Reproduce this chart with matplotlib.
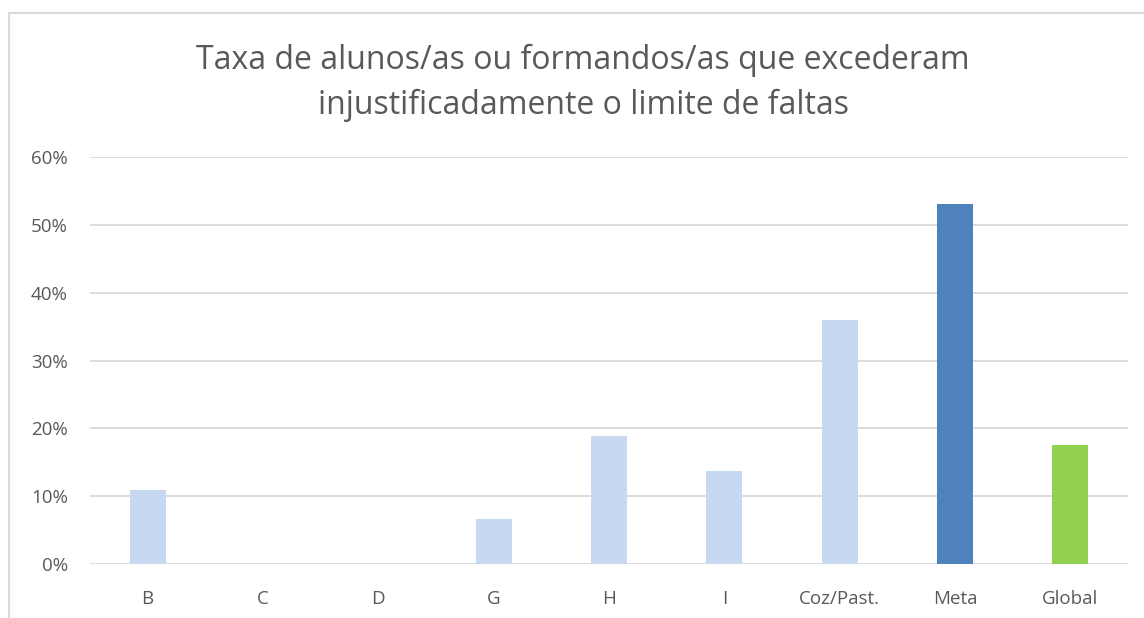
import matplotlib.pyplot as plt
from matplotlib.patches import Rectangle
from matplotlib.ticker import PercentFormatter

categorias = ["B", "C", "D", "G", "H", "I", "Coz/Past.", "Meta", "Global"]
taxas = [0.109, 0.0, 0.0, 0.066, 0.188, 0.137, 0.36, 0.53, 0.175]
cores = ["#C6D9F1"] * 7 + ["#4F81BD", "#92D050"]

titulo = "Taxa de alunos/as ou formandos/as que excederam\ninjustificadamente o limite de faltas"

plt.rcParams['font.family'] = ['Open Sans', 'DejaVu Sans']
cinza = "#595959"

fig = plt.figure(figsize=(11.44, 6.18), dpi=100)
ax = fig.add_axes([90 / 1144, 1 - 564 / 618, (1128 - 90) / 1144, (564 - 157) / 618])

x = range(len(categorias))
ax.bar(x, taxas, width=0.31, color=cores, zorder=3)

ax.set_ylim(0, 0.6)
ax.set_xlim(-0.5, len(categorias) - 0.5)
ax.set_yticks([0, 0.1, 0.2, 0.3, 0.4, 0.5, 0.6])
ax.yaxis.set_major_formatter(PercentFormatter(1.0, decimals=0))
ax.set_xticks(list(x))
ax.set_xticklabels(categorias)
ax.tick_params(axis='both', length=0, colors=cinza, labelsize=13.5)
ax.tick_params(axis='x', pad=19)
ax.tick_params(axis='y', pad=16)
ax.grid(axis='y', color="#D9D9D9", linewidth=1.3, zorder=0)
for s in ax.spines.values():
    s.set_visible(False)

fig.text(583 / 1144, 1 - 83 / 618, titulo, ha='center', va='center',
         fontsize=23, color=cinza, linespacing=1.45)

# moldura do gráfico
fig.patches.append(Rectangle((9 / 1144, -0.1), 1.2, 1 - 13 / 618 + 0.1,
                             transform=fig.transFigure, fill=False,
                             edgecolor="#D9D9D9", linewidth=1.5))

fig.savefig("out.png", dpi=100, facecolor="white")
